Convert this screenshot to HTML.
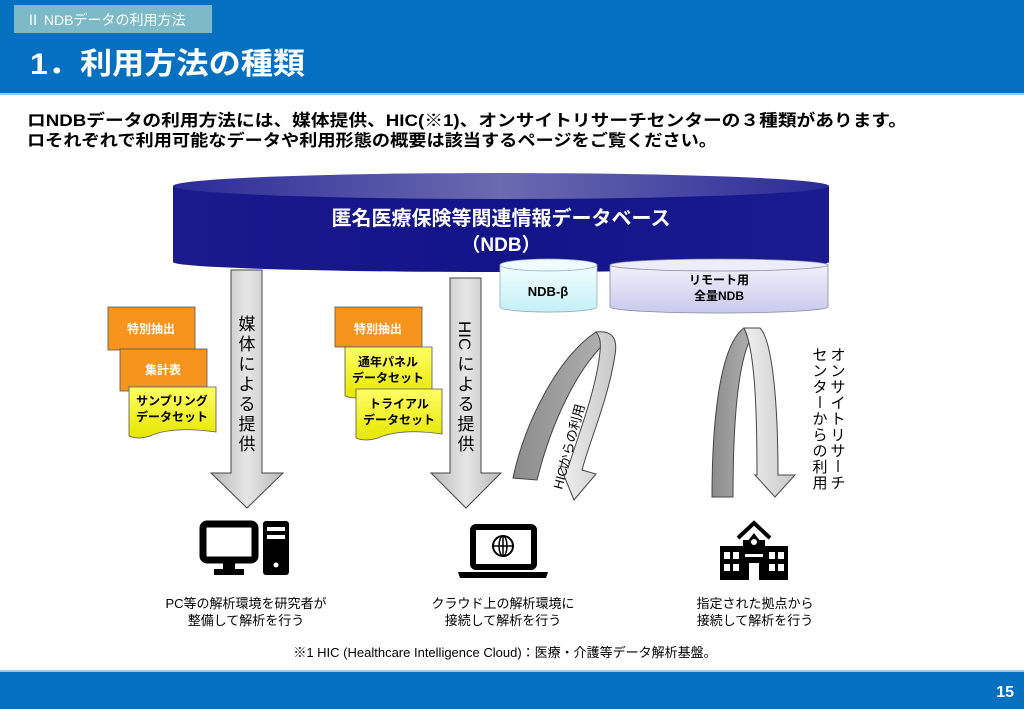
<!DOCTYPE html>
<html><head><meta charset="utf-8"><style>
html,body{margin:0;padding:0;background:#fff;}
svg{display:block;font-family:"Liberation Sans","Noto Sans CJK JP",sans-serif;}
</style></head><body>
<svg width="1024" height="709" viewBox="0 0 1024 709" xmlns="http://www.w3.org/2000/svg">
<defs>
<linearGradient id="navy" x1="0" y1="0" x2="1" y2="0">
<stop offset="0" stop-color="#1a1a8c"/><stop offset="0.5" stop-color="#14148a"/><stop offset="1" stop-color="#1b1b90"/></linearGradient>
<linearGradient id="navtop" x1="0" y1="0" x2="1" y2="0">
<stop offset="0" stop-color="#2a2a98"/><stop offset="0.5" stop-color="#6b6bb0"/><stop offset="1" stop-color="#2a2a98"/></linearGradient>
<linearGradient id="cyan" x1="0" y1="0" x2="0" y2="1"><stop offset="0" stop-color="#f2feff"/><stop offset="1" stop-color="#c4f0f6"/></linearGradient>
<linearGradient id="lav" x1="0" y1="0" x2="0" y2="1"><stop offset="0" stop-color="#f1f1fb"/><stop offset="1" stop-color="#c9c9ec"/></linearGradient>
<linearGradient id="gr" x1="0" y1="0" x2="1" y2="0"><stop offset="0" stop-color="#b8b8b8"/><stop offset="0.5" stop-color="#e6e6e6"/><stop offset="1" stop-color="#b8b8b8"/></linearGradient>
<linearGradient id="dk" x1="0" y1="0" x2="1" y2="0"><stop offset="0" stop-color="#8c8c8c"/><stop offset="1" stop-color="#b0b0b0"/></linearGradient>
<linearGradient id="lt" x1="0" y1="0" x2="1" y2="0"><stop offset="0" stop-color="#f0f0f0"/><stop offset="1" stop-color="#c8c8c8"/></linearGradient>
<linearGradient id="yel" x1="0" y1="0" x2="0" y2="1"><stop offset="0" stop-color="#ffff66"/><stop offset="1" stop-color="#e6e600"/></linearGradient>
</defs>
<rect x="0" y="0" width="1024" height="93" fill="#0570c0"/>
<rect x="14" y="5" width="198" height="28" fill="#7dbac8"/>
<text x="26" y="25" font-size="14" fill="#fff">Ⅱ  NDBデータの利用方法</text>
<text x="30" y="74" font-size="30" font-weight="bold" fill="#fff" textLength="275" lengthAdjust="spacingAndGlyphs">1．利用方法の種類</text>
<rect x="0" y="93" width="1024" height="2" fill="#9cc7e8"/>
<text x="27" y="126" font-size="16.5" font-weight="bold" fill="#000" textLength="880" lengthAdjust="spacingAndGlyphs">ロNDBデータの利用方法には、媒体提供、HIC(※1)、オンサイトリサーチセンターの３種類があります。</text>
<text x="27" y="146" font-size="16.5" font-weight="bold" fill="#000" textLength="690" lengthAdjust="spacingAndGlyphs">ロそれぞれで利用可能なデータや利用形態の概要は該当するページをご覧ください。</text>
<path d="M173,186 L173,262 A328,10 0 0 0 829,262 L829,186 Z" fill="url(#navy)"/>
<ellipse cx="501" cy="186" rx="328" ry="13" fill="url(#navtop)"/>
<text x="501" y="225" font-size="20" font-weight="bold" fill="#fff" text-anchor="middle">匿名医療保険等関連情報データベース</text>
<text x="501" y="251" font-size="19" font-weight="bold" fill="#fff" text-anchor="middle">（NDB）</text>
<path d="M500,265 L500,307 A48,5 0 0 0 597,307 L597,265 Z" fill="url(#cyan)" stroke="#9ab" stroke-width="0.8"/>
<ellipse cx="548.5" cy="265" rx="48.5" ry="6" fill="#eefcff" stroke="#9ab" stroke-width="0.8"/>
<text x="548" y="296" font-size="13" font-weight="bold" fill="#000" text-anchor="middle">NDB-β</text>
<path d="M610,265 L610,307 A109,6 0 0 0 828,307 L828,265 Z" fill="url(#lav)" stroke="#88a" stroke-width="0.8"/>
<ellipse cx="719" cy="265" rx="109" ry="6" fill="#eeeefa" stroke="#88a" stroke-width="0.8"/>
<text x="719" y="284" font-size="12" font-weight="bold" fill="#000" text-anchor="middle">リモート用</text>
<text x="719" y="300" font-size="12" font-weight="bold" fill="#000" text-anchor="middle">全量NDB</text>
<path d="M231,270 L262,270 L262,473 L283,473 L247,508 L211,473 L231,473 Z" fill="url(#gr)" stroke="#444" stroke-width="1"/>
<text font-size="17" fill="#000" text-anchor="middle"><tspan x="247" y="330">媒</tspan><tspan x="247" y="350">体</tspan><tspan x="247" y="370">に</tspan><tspan x="247" y="390">よ</tspan><tspan x="247" y="410">る</tspan><tspan x="247" y="430">提</tspan><tspan x="247" y="450">供</tspan></text>
<path d="M450,278 L481,278 L481,473 L501,473 L466,508 L431,473 L450,473 Z" fill="url(#gr)" stroke="#444" stroke-width="1"/>
<text transform="translate(459,321) rotate(90)" font-size="17" fill="#000">HIC</text>
<text font-size="17" fill="#000" text-anchor="middle"><tspan x="466" y="370">に</tspan><tspan x="466" y="390">よ</tspan><tspan x="466" y="410">る</tspan><tspan x="466" y="430">提</tspan><tspan x="466" y="450">供</tspan></text>
<g stroke="#555" stroke-width="0.8">
<rect x="108" y="307" width="87" height="43" fill="#f7941d"/>
<rect x="120" y="349" width="87" height="42" fill="#f7941d"/>
<path d="M129,387 L216,387 L216,432 Q172,426 150,436 Q138,440 129,436 Z" fill="url(#yel)"/>
<rect x="335" y="307" width="87" height="40" fill="#f7941d"/>
<path d="M345,347 L432,347 L432,392 Q390,386 368,396 Q355,400 345,396 Z" fill="url(#yel)"/>
<path d="M356,389 L442,389 L442,434 Q400,428 378,438 Q365,442 356,438 Z" fill="url(#yel)"/>
</g>
<g font-size="12" font-weight="bold" text-anchor="middle">
<text x="151" y="333" fill="#fff">特別抽出</text>
<text x="163" y="374" fill="#fff">集計表</text>
<text x="172" y="405" fill="#000">サンプリング</text>
<text x="172" y="421" fill="#000">データセット</text>
<text x="378" y="333" fill="#fff">特別抽出</text>
<text x="388" y="366" fill="#000">通年パネル</text>
<text x="388" y="382" fill="#000">データセット</text>
<text x="399" y="408" fill="#000">トライアル</text>
<text x="399" y="424" fill="#000">データセット</text>
</g>
<path d="M513,478 C525,420 560,355 596,332 L606,342 C578,368 552,420 537,480 Z" fill="url(#dk)" stroke="#444" stroke-width="1"/>
<path d="M596,332 C612,330 618,338 615,355 C608,400 590,440 582,470 L596,474 L574,500 L560,466 L568,468 C580,430 596,390 600,352 C601,342 600,337 596,332 Z" fill="url(#lt)" stroke="#444" stroke-width="1"/>
<text transform="translate(562,490) rotate(-75)" font-size="13" fill="#000">HICからの利用</text>
<path d="M712,497 C712,420 720,345 744,328 L752,336 C738,360 733,420 733,497 Z" fill="url(#dk)" stroke="#444" stroke-width="1"/>
<path d="M744,328 L760,328 C772,340 778,400 778,475 L795,475 L775,497 L755,475 L757,475 C757,410 755,350 744,328 Z" fill="url(#lt)" stroke="#444" stroke-width="1"/>
<g font-size="15" fill="#000" text-anchor="middle">
<text x="838" y="360">オ</text><text x="838" y="376">ン</text><text x="838" y="392">サ</text><text x="838" y="408">イ</text><text x="838" y="424">ト</text><text x="838" y="440">リ</text><text x="838" y="456">サ</text><line x1="838" y1="460" x2="838" y2="472" stroke="#000" stroke-width="1.2"/><text x="838" y="488">チ</text>
<text x="820" y="360">セ</text><text x="820" y="376">ン</text><text x="820" y="392">タ</text><line x1="820" y1="396" x2="820" y2="408" stroke="#000" stroke-width="1.2"/><text x="820" y="424">か</text><text x="820" y="440">ら</text><text x="820" y="456">の</text><text x="820" y="472">利</text><text x="820" y="488">用</text>
</g>
<rect x="203" y="524" width="52" height="36" rx="4" fill="none" stroke="#000" stroke-width="7"/>
<rect x="223" y="563" width="12" height="7" fill="#000"/>
<rect x="214" y="569" width="30" height="6" fill="#000"/>
<rect x="263" y="521" width="26" height="54" rx="3" fill="#000"/>
<rect x="267" y="527" width="18" height="4" fill="#fff"/>
<rect x="267" y="535" width="18" height="4" fill="#fff"/>
<circle cx="276" cy="565" r="2.5" fill="#fff"/>
<rect x="473" y="527" width="61" height="40" rx="3" fill="none" stroke="#000" stroke-width="6"/>
<path d="M458,572 L548,572 L546,578 L460,578 Z" fill="#000"/>
<circle cx="503" cy="546" r="10" fill="none" stroke="#000" stroke-width="2"/>
<ellipse cx="503" cy="546" rx="4" ry="10" fill="none" stroke="#000" stroke-width="1.5"/>
<line x1="493" y1="546" x2="513" y2="546" stroke="#000" stroke-width="1.5"/>
<line x1="503" y1="536" x2="503" y2="556" stroke="#000" stroke-width="1.5"/>
<path d="M738,538 L754,523 L770,538" fill="none" stroke="#000" stroke-width="4"/>
<path d="M744,546 L754,533 L764,546 Z" fill="#000"/>
<rect x="720" y="546" width="68" height="34" fill="#000"/>
<rect x="743" y="540" width="22" height="10" fill="#000"/>
<circle cx="754" cy="542" r="3" fill="#fff"/>
<g fill="#fff">
<rect x="724" y="552" width="6" height="7"/><rect x="733" y="552" width="6" height="7"/><rect x="724" y="564" width="6" height="7"/><rect x="733" y="564" width="6" height="7"/>
<rect x="769" y="552" width="6" height="7"/><rect x="778" y="552" width="6" height="7"/><rect x="769" y="564" width="6" height="7"/><rect x="778" y="564" width="6" height="7"/>
<rect x="745" y="554" width="18" height="3"/><rect x="749" y="563" width="10" height="17"/>
</g>
<g font-size="13" fill="#000" text-anchor="middle">
<text x="246" y="608">PC等の解析環境を研究者が</text>
<text x="246" y="625">整備して解析を行う</text>
<text x="503" y="608">クラウド上の解析環境に</text>
<text x="503" y="625">接続して解析を行う</text>
<text x="755" y="608">指定された拠点から</text>
<text x="755" y="625">接続して解析を行う</text>
</g>
<text x="505" y="657" font-size="13" fill="#000" text-anchor="middle">※1  HIC (Healthcare Intelligence Cloud)：医療・介護等データ解析基盤。</text>
<rect x="0" y="670" width="1024" height="2" fill="#9cc7e8"/>
<rect x="0" y="672" width="1024" height="37" fill="#0570c0"/>
<text x="1014" y="697" font-size="16" font-weight="bold" fill="#fff" text-anchor="end">15</text>
</svg>
</body></html>
